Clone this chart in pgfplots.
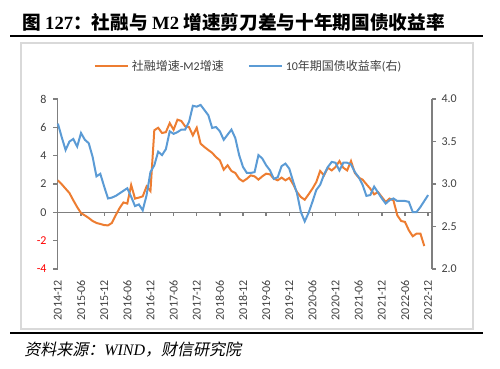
\documentclass[border=0pt]{standalone}
\usepackage{pgfplots}
\pgfplotsset{compat=1.18}
\usepackage{pgfplotstable}
\usepackage{fontspec}
\setmainfont{Carlito}
\newfontfamily\cjk{Noto Sans CJK SC}
\newfontfamily\cjkslant{Noto Sans CJK SC}[FakeSlant=0.2]
\newfontfamily\tnr{Liberation Serif}
\definecolor{sorange}{HTML}{ED7D31}
\definecolor{sblue}{HTML}{5B9BD5}
\definecolor{axgray}{HTML}{7F7F7F}
\definecolor{txtgray}{HTML}{404040}
\definecolor{framegray}{HTML}{D9D9D9}

\pgfplotstableread{
m v
0 2.26
1 1.98
2 1.67
3 1.36
4 0.85
5 0.37
6 -0.05
7 -0.22
8 -0.40
9 -0.61
10 -0.75
11 -0.82
12 -0.90
13 -0.92
14 -0.75
15 -0.20
16 0.30
17 0.70
18 0.62
19 1.93
20 0.97
21 1.04
22 1.13
23 1.83
24 1.50
25 5.79
26 5.97
27 5.60
28 5.66
29 6.30
30 5.83
31 6.54
32 6.45
33 6.07
34 6.02
35 5.43
36 5.97
37 4.85
38 4.61
39 4.40
40 4.20
41 3.90
42 3.67
43 3.01
44 3.32
45 2.92
46 2.78
47 2.37
48 2.19
49 2.37
50 2.61
51 2.54
52 2.31
53 2.54
54 2.73
55 2.68
56 2.37
57 2.26
58 2.45
59 2.26
60 2.43
61 1.98
62 1.43
63 1.08
64 0.89
65 1.27
66 1.67
67 2.14
68 2.92
69 2.61
70 3.15
71 2.96
72 3.20
73 3.62
74 3.15
75 2.96
76 3.62
77 2.78
78 2.45
79 2.31
80 1.98
81 1.67
82 1.27
83 1.43
84 1.08
85 0.73
86 0.97
87 0.85
88 -0.21
89 -0.61
90 -0.68
91 -1.27
92 -1.69
93 -1.50
94 -1.50
95 -2.38
}\spread

\pgfplotstableread{
m v
0 3.71
1 3.55
2 3.40
3 3.50
4 3.53
5 3.44
6 3.60
7 3.52
8 3.48
9 3.32
10 3.09
11 3.12
12 2.97
13 2.83
14 2.84
15 2.86
16 2.89
17 2.92
18 2.95
19 2.85
20 2.74
21 2.76
22 2.69
23 2.87
24 3.14
25 3.22
26 3.38
27 3.34
28 3.41
29 3.62
30 3.59
31 3.61
32 3.64
33 3.64
34 3.73
35 3.92
36 3.91
37 3.93
38 3.87
39 3.81
40 3.66
41 3.67
42 3.62
43 3.52
44 3.58
45 3.64
46 3.54
47 3.34
48 3.20
49 3.13
50 3.13
51 3.14
52 3.34
53 3.30
54 3.22
55 3.16
56 3.06
57 3.08
58 3.21
59 3.24
60 3.18
61 3.03
62 2.89
63 2.67
64 2.56
65 2.66
66 2.79
67 2.93
68 2.99
69 3.11
70 3.20
71 3.26
72 3.25
73 3.16
74 3.25
75 3.25
76 3.23
77 3.14
78 3.08
79 2.99
80 2.86
81 2.87
82 2.97
83 2.90
84 2.83
85 2.77
86 2.81
87 2.83
88 2.80
89 2.80
90 2.80
91 2.79
92 2.67
93 2.67
94 2.73
95 2.80
96 2.87
}\yield

\begin{document}
\begin{tikzpicture}[x=0.75pt,y=0.75pt]
\useasboundingbox (0,0) rectangle (500,368);
% title
\node[anchor=west, inner sep=0pt, font=\fontsize{14}{16}\selectfont] at (22,346)
  {{\cjk\bfseries 图 }{\tnr\bfseries 127}{\cjk\bfseries ：社融与 }{\tnr\bfseries M2}{\cjk\bfseries \ 增速剪刀差与十年期国债收益率}};
\draw[line width=1.6pt] (10,332) -- (483,332);
\draw[framegray, line width=0.9pt] (21,325) rectangle (473,39);
\draw[line width=1.6pt] (10,35) -- (483,35);
\node[anchor=west, inner sep=0pt, font=\fontsize{12}{14}\selectfont] at (24,18)
  {{\cjkslant 资料来源：}{\tnr\itshape WIND}{\cjkslant ，财信研究院}};

\begin{axis}[
  at={(43.125pt,74.25pt)}, anchor=south west,
  scale only axis, width=280.875pt, height=127.5pt,
  xmin=-0.1, xmax=97, ymin=-4, ymax=8,
  axis y line*=left, axis x line*=bottom,
  x axis line style={draw=none},
  y axis line style={axgray, line width=1pt},
  xtick={0,6,...,96},
  xticklabels={2014-12,2015-06,2015-12,2016-06,2016-12,2017-06,2017-12,2018-06,2018-12,2019-06,2019-12,2020-06,2020-12,2021-06,2021-12,2022-06,2022-12},
  xtick style={draw=none},
  ytick={-4,-2,...,8},
  yticklabels={\textcolor{red}{-4},\textcolor{red}{-2},0,2,4,6,8},
  ytick style={axgray, line width=1pt},
  tick align=outside, major tick length=3pt,
  xticklabel style={rotate=90, anchor=east, inner xsep=5pt, font=\fontsize{9}{10}\selectfont, text=txtgray},
  yticklabel style={inner xsep=5pt, font=\fontsize{9}{10}\selectfont, text=txtgray},
  clip=false,
]
\addplot[axgray, line width=1pt] coordinates {(-0.1,0) (97,0)};
\addplot[ycomb, axgray, line width=1pt] coordinates {(6,-0.28) (12,-0.28) (18,-0.28) (24,-0.28) (30,-0.28) (36,-0.28) (42,-0.28) (48,-0.28) (54,-0.28) (60,-0.28) (66,-0.28) (72,-0.28) (78,-0.28) (84,-0.28) (90,-0.28) (96,-0.28)};
\addplot[sorange, line width=1.5pt] table[x=m, y=v] {\spread};
\end{axis}

\begin{axis}[
  at={(43.125pt,74.25pt)}, anchor=south west,
  scale only axis, width=280.875pt, height=127.5pt,
  xmin=-0.1, xmax=97, ymin=2, ymax=4,
  axis y line*=right, axis x line=none, xtick=\empty,
  y axis line style={axgray, line width=1pt},
  ytick={2,2.5,...,4},
  yticklabels={2.0,2.5,3.0,3.5,4.0},
  ytick style={axgray, line width=1pt},
  tick align=outside, major tick length=3pt,
  yticklabel style={inner xsep=4pt, font=\fontsize{9}{10}\selectfont, text=txtgray},
  legend style={at={(0.511,1.194)}, anchor=center, draw=none, fill=none,
    font=\fontsize{9}{11}\selectfont, text=txtgray,
    /tikz/every even column/.append style={column sep=16pt}},
  legend columns=2,
  legend image code/.code={\draw[#1, line width=1.5pt] (0pt,0pt) -- (25pt,0pt);},
  clip=false,
]
\addlegendimage{sorange, line width=1.5pt}
\addlegendentry{{\cjk 社融增速}-M2{\cjk 增速}}
\addplot[sblue, line width=1.5pt] table[x=m, y=v] {\yield};
\addlegendentry{10{\cjk 年期国债收益率}({\cjk 右})}
\end{axis}
\end{tikzpicture}
\end{document}
